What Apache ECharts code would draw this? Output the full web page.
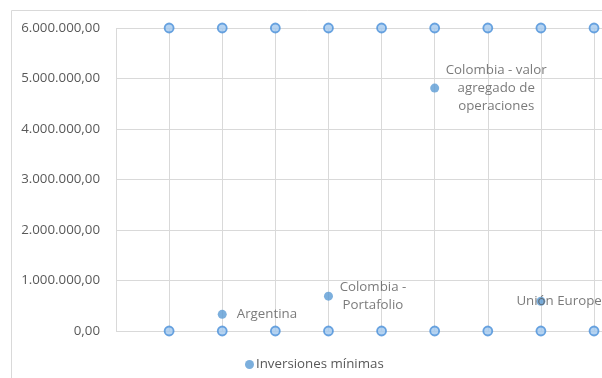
<!DOCTYPE html>
<html><head><meta charset="utf-8">
<script src="https://cdn.jsdelivr.net/npm/echarts@6/dist/echarts.min.js"></script>
<style>html,body{margin:0;padding:0;background:#fff}#c{width:602px;height:378px}</style>
</head><body><div id="c"></div>
<script>
// Data
var pointNames = ['Argentina', 'Colombia -\nPortafolio', 'Colombia - valor\nagregado de\noperaciones', 'Unión Europea'];
var pointX = [2, 4, 6, 8];
var pointY = [330000, 690000, 4810000, 590000];
var markerX = [1, 2, 3, 4, 5, 6, 7, 8, 9];
var markerTopY = 6000000;
var markerBottomY = 0;
var yTicks = [0, 1000000, 2000000, 3000000, 4000000, 5000000, 6000000];
var seriesName = 'Inversiones mínimas';

function fmt(v) {
  var s = Math.round(v).toString().replace(/\B(?=(\d{3})+(?!\d))/g, '.');
  return s + ',00';
}

var FS = 13.3;
var labelCfg = [
  {position: [19, 4.5], align: 'left', verticalAlign: 'middle'},
  {position: [49, 4.5], align: 'center', verticalAlign: 'middle'},
  {position: [66, 4.5], align: 'center', verticalAlign: 'middle'},
  {position: [-20, 4.5], align: 'left', verticalAlign: 'middle'}
];

var mainData = pointX.map(function (x, i) {
  return {value: [x, pointY[i]], name: pointNames[i], label: labelCfg[i]};
});
var markerData = [];
markerX.forEach(function (x) { markerData.push([x, markerTopY]); markerData.push([x, markerBottomY]); });

var chart = echarts.init(document.getElementById('c'));
chart.setOption({
  animation: false,
  textStyle: {fontFamily: 'Open Sans'},
  graphic: [{
    type: 'rect', shape: {x: 11.5, y: 10.5, width: 700, height: 500},
    style: {fill: 'none', stroke: '#d9d9d9', lineWidth: 1}, silent: true, z: -10
  }],
  grid: {left: 116, top: 28, right: 0, bottom: 47, containLabel: false},
  legend: {
    bottom: 2, left: 240, icon: 'circle', itemWidth: 9, itemHeight: 9, itemGap: 4,
    data: [seriesName],
    textStyle: {color: '#595959', fontSize: FS, fontFamily: 'Open Sans', padding: [0, 0, 0, -3]}
  },
  xAxis: {
    type: 'value', min: 0, max: 9.15, interval: 1,
    axisLine: {show: false}, axisTick: {show: false}, axisLabel: {show: false},
    splitLine: {show: true, lineStyle: {color: '#d9d9d9', width: 1}}
  },
  yAxis: {
    type: 'value', min: 0, max: 6000000, interval: 1000000,
    axisLine: {show: false}, axisTick: {show: false},
    axisLabel: {color: '#595959', fontSize: FS, margin: 16, fontFamily: 'Open Sans',
      formatter: function (v) { return yTicks.indexOf(v) >= 0 ? fmt(v) : ''; }},
    splitLine: {lineStyle: {color: '#d9d9d9', width: 1}}
  },
  series: [
    {
      type: 'scatter', name: 'markers', data: markerData, symbol: 'circle', symbolSize: 9,
      itemStyle: {color: '#a3c8ee', borderColor: '#4a90d9', borderWidth: 1.8},
      label: {show: false}, z: 3
    },
    {
      type: 'scatter', name: seriesName, data: mainData, symbol: 'circle', symbolSize: 9,
      itemStyle: {color: '#5b9bd5'},
      label: {show: true, formatter: '{b}', color: '#595959', fontSize: FS, fontFamily: 'Open Sans', lineHeight: 18},
      labelLayout: {hideOverlap: false}, z: 4
    }
  ]
});
</script></body></html>
